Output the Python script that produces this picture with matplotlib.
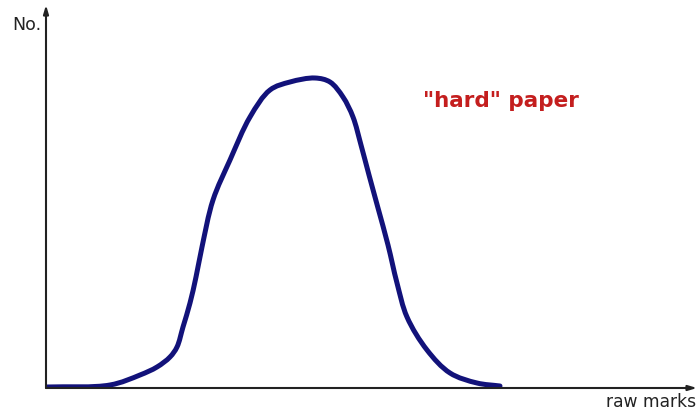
import matplotlib
matplotlib.use("Agg")
import matplotlib.pyplot as plt
from matplotlib.path import Path
from matplotlib.patches import PathPatch
import numpy as np

# curve (x: raw marks, y: number of candidates, arbitrary units)
raw_marks = [1, 64, 94, 111, 124, 131, 137, 144, 150, 156, 167, 184, 204, 224,
             244, 269, 284, 297, 307, 315, 323, 332, 342, 351, 361, 381, 404, 431, 454]
counts = [1, 3, 13, 21, 31, 41, 61, 85, 111, 141, 188, 228, 271, 298,
          306, 310, 306, 291, 271, 243, 213, 180, 143, 105, 71, 38, 15, 5, 2]

x_label = "raw marks"
y_label = "No."
annotation = '"hard" paper'

fig = plt.figure(figsize=(6.98, 4.11), dpi=100)
W, H = 698, 411
ax = fig.add_axes([46 / W, (H - 388) / H, (697 - 46) / W, (388 - 5) / H])
ax.set_xlim(0, 651)
ax.set_ylim(0, 383)
ax.axis("off")

# smooth line through the data points (centripetal Catmull-Rom as cubic Bezier segments)
pts = np.column_stack([raw_marks, counts]).astype(float)
n = len(pts)
ext = np.vstack([2 * pts[0] - pts[1], pts, 2 * pts[-1] - pts[-2]])
verts = [pts[0]]
codes = [Path.MOVETO]
for i in range(1, n):
    p0, p1, p2, p3 = ext[i - 1], ext[i], ext[i + 1], ext[i + 2]
    d1 = np.linalg.norm(p1 - p0) ** 0.5
    d2 = np.linalg.norm(p2 - p1) ** 0.5
    d3 = np.linalg.norm(p3 - p2) ** 0.5
    # tangents (Barry-Goldman form)
    m1 = (p1 - p0) / d1 - (p2 - p0) / (d1 + d2) + (p2 - p1) / d2
    m2 = (p2 - p1) / d2 - (p3 - p1) / (d2 + d3) + (p3 - p2) / d3
    m1 *= d2
    m2 *= d2
    verts += [p1 + m1 / 3.0, p2 - m2 / 3.0, p2]
    codes += [Path.CURVE4] * 3
ax.add_patch(PathPatch(Path(verts, codes), fill=False, edgecolor="#12127a", lw=3.6,
                       capstyle="round", joinstyle="round", zorder=3))

# axes with arrowheads
ax.annotate("", xy=(0, 383), xytext=(0, 0),
            arrowprops=dict(arrowstyle="-|>,head_length=0.5,head_width=0.15",
                            color="#222222", lw=1.5, shrinkA=0, shrinkB=0))
ax.annotate("", xy=(651, 0), xytext=(0, 0),
            arrowprops=dict(arrowstyle="-|>,head_length=0.5,head_width=0.15",
                            color="#222222", lw=1.5, shrinkA=0, shrinkB=0))

fig.text(12 / W, 1 - 25 / H, y_label, fontsize=12.5, color="#222222", va="center", ha="left")
fig.text(696 / W, 1 - 402 / H, x_label, fontsize=12.3, color="#222222", va="center", ha="right")
fig.text(501 / W, 1 - 101 / H, annotation, fontsize=15.5, fontweight="bold",
         color="#c41e1e", va="center", ha="center")

fig.savefig("out.png", dpi=100, facecolor="white")
